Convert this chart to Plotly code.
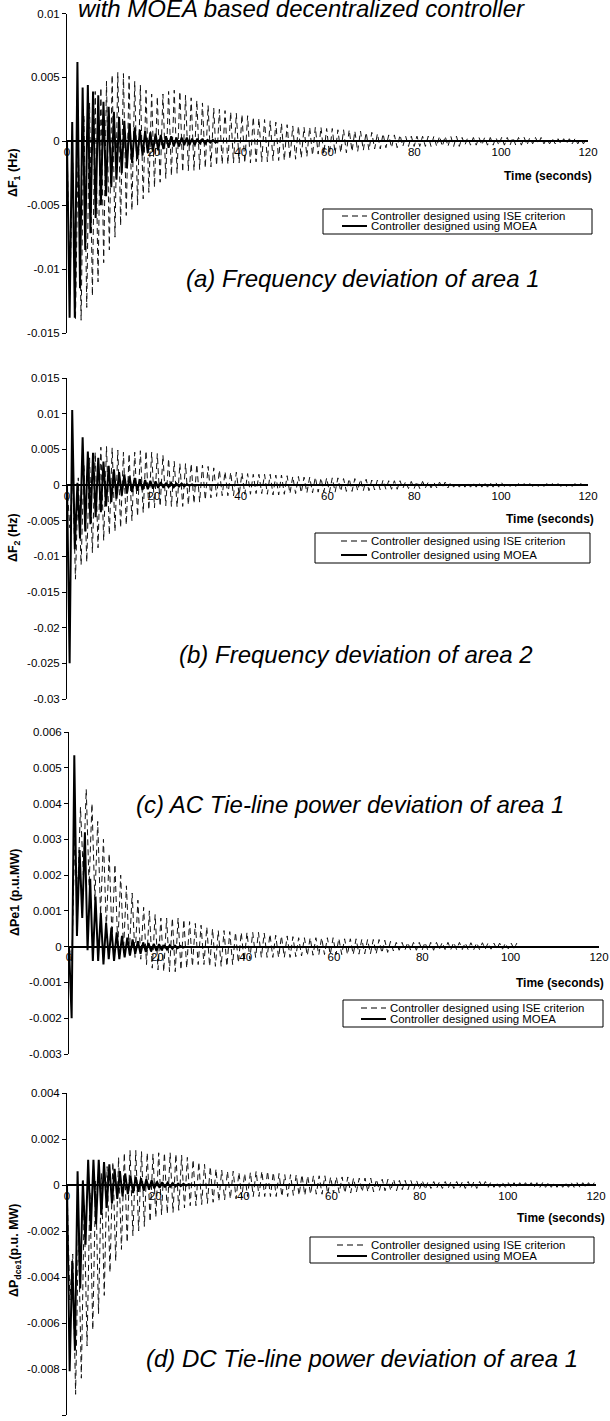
import plotly.graph_objects as go

W, H = 610, 1421
UNIT = 1e-4        # series values below are written in units of 1e-4
ISE_STEP = 0.65    # seconds between successive extrema read for the ISE curves
MOEA_STEP = 0.6    # seconds between successive extrema read for the MOEA curves

TIME_TICKS = [0, 20, 40, 60, 80, 100, 120]
TIME_TICK_TEXT = ["0", "20", "40", "60", "80", "100", "120"]

SERIES_NAMES = ["Controller designed using ISE criterion", "Controller designed using MOEA"]

# ---------------- (a) Frequency deviation of area 1 ----------------
ise_a = [
    0, -120, -15, -140, 0, -140, 20, -130, 30, -121, 39, -110, 42, -95, 47, -85,
    52, -75, 54, -66, 53, -58, 51, -54, 47, -50, 44, -45, 40, -40, 37, -36,
    35, -32, 37, -29, 39, -27, 40, -25, 39, -24, 36, -23, 34, -23, 32, -22,
    30, -21, 28, -20, 26, -19, 25, -18, 24, -18, 23, -17, 22, -17, 21, -17,
    20, -17, 19, -16, 18, -16, 17, -16, 16, -15, 15, -15, 14, -15, 13, -14,
    12, -14, 12, -13, 11, -12, 11, -11, 11, -10, 11, -10, 10, -10, 10, -10,
    9, -9, 9, -9, 9, -8, 8, -8, 8, -7, 7, -7, 7, -6, 6, -6,
    6, -5, 5, -5, 5, -5, 5, -4, 4, -4, 4, -4, 4, -4, 4, -4,
    4, -4, 4, -4, 4, -4, 4, -4, 4, -4, 4, -4, 3, -3, 3, -3,
    3, -3, 3, -3, 3, -3, 3, -3, 3, -3, 3, -3, 3, -3, 3, -3,
    3, -3, 3, -3, 3, -2, 3, -2, 3, -2, 2, -2, 2, -2, 2, -2,
    2, -2, 2, -2, 2, -2, 2, -2, 2,
]
moea_a = [
    0, -138, 15, -138, 62, -115, 42, -85, 44, -72, 39, -60, 36, -50, 31, -43,
    27, -36, 23, -30, 19, -25, 16, -21, 14, -17, 11, -14, 9, -11, 8, -9,
    7, -8, 6, -7, 5, -6, 4, -5, 4, -4, 3, -4, 3, -3, 3, -3,
    2, -3, 2, -2, 2, -2, 1, -1, 1, -1, 0,
]
yticks_a = [-0.015, -0.01, -0.005, 0, 0.005, 0.01]
ytext_a = ["-0.015", "-0.01", "-0.005", "0", "0.005", "0.01"]

# ---------------- (b) Frequency deviation of area 2 ----------------
ise_b = [
    0, -60, 15, -132, 10, -112, 28, -108, 38, -95, 46, -88, 53, -78, 54, -70,
    52, -65, 49, -60, 46, -56, 44, -50, 46, -44, 48, -39, 48, -35, 46, -32,
    44, -30, 42, -29, 37, -30, 33, -31, 30, -30, 30, -28, 30, -26, 29, -24,
    28, -21, 26, -18, 24, -16, 21, -15, 19, -15, 18, -15, 18, -14, 17, -13,
    16, -13, 15, -12, 15, -12, 15, -13, 15, -14, 14, -14, 14, -13, 13, -12,
    12, -12, 12, -11, 11, -11, 11, -11, 11, -10, 10, -10, 10, -10, 10, -10,
    10, -9, 9, -9, 9, -9, 9, -8, 8, -8, 8, -8, 7, -7, 7, -7,
    7, -6, 6, -6, 6, -6, 6, -5, 5, -5, 5, -5, 5, -5, 5, -4,
    4, -4, 4, -4, 4, -4, 4, -4, 4, -3, 3, -3, 3, -3, 3, -3,
    3, -3, 3, -3, 3, -3, 3, -3, 3, -3, 3, -2, 2, -2, 2, -2,
    2, -2, 2, -2, 2, -2, 2, -2, 2, -2, 2, -2, 2, -2, 2, -2,
    2, -2, 2, -2, 2, -2, 2, -1, 1,
]
moea_b = [
    0, -250, 105, -90, 3, -75, 67, -65, 47, -55, 45, -45, 38, -38, 33, -30,
    27, -24, 22, -19, 18, -15, 15, -12, 12, -10, 10, -8, 8, -7, 7, -6,
    6, -5, 5, -4, 4, -4, 3, -3, 3, -3, 2, -2, 2, -2, 1, -1,
    1, -1, 0,
]
yticks_b = [-0.03, -0.025, -0.02, -0.015, -0.01, -0.005, 0, 0.005, 0.01, 0.015]
ytext_b = ["-0.03", "-0.025", "-0.02", "-0.015", "-0.01", "-0.005", "0", "0.005", "0.01", "0.015"]

# ---------------- (c) AC tie-line power deviation of area 1 ----------------
ise_c = [
    0, -4, 30, 15, 39, 20, 44, 17, 40, 13, 35, 9, 30, 5, 26, 2,
    23, 0, 20, -1, 17, -2, 15, -3, 13, -3.5, 11, -5, 10, -6, 9, -6.5,
    8, -7, 8, -7, 8, -7, 8, -6.5, 7.6, -6, 7, -5.5, 6.5, -5, 6, -5,
    5.5, -5.5, 5, -5.5, 4.5, -5.5, 4.5, -5.5, 4.2, -5, 4, -4.5, 4, -4, 4, -3.5,
    4, -3, 4, -3, 3.8, -3, 3.5, -3, 3.2, -3, 3, -3, 3, -3, 2.8, -2.8,
    2.5, -2.6, 2.5, -2.5, 2.5, -2.4, 2.5, -2.3, 2.5, -2.2, 2.5, -2.2, 2.5, -2.2, 2.3, -2.2,
    2.2, -2.2, 2.2, -2.2, 2.2, -2.1, 2.1, -2, 2, -2, 2, -2, 2, -1.8, 1.8, -1.6,
    1.5, -1.2, 1.2, -1, 1.2, -1, 1.2, -1, 1.2, -1, 1.2, -1, 1.2, -1, 1.2, -1,
    1.2, -0.8, 1.2, -0.8, 1.2, -0.8, 1.2, -0.8, 1.2, -0.8, 1.1, -0.8, 1.1, -0.8, 1.1, -0.8,
    1.1, -0.7, 1.1, -0.7, 1, -0.7, 1, -0.7, 1, -0.6, 1, -0.6, 1,
]
moea_c = [
    0, -20, 53.5, 3, 27, 8, 32, -1, 19, -4, 14, -4, 9.5, -5, 6.7, -3.5,
    5.3, -4, 4, -3.5, 3, -3, 2.5, -2.5, 2, -2, 1.5, -2, 1.2, -1.5, 1, -1.3,
    0.8, -1.2, 0.7, -1, 0.5, -0.8, 0.4, -0.6, 0.3, -0.4, 0.2, -0.3, 0,
]
yticks_c = [-0.003, -0.002, -0.001, 0, 0.001, 0.002, 0.003, 0.004, 0.005, 0.006]
ytext_c = ["-0.003", "-0.002", "-0.001", "0", "0.001", "0.002", "0.003", "0.004", "0.005", "0.006"]

# ---------------- (d) DC tie-line power deviation of area 1 ----------------
ise_d = [
    0, -50, -30, -91, -20, -84, -9, -70, -3, -63, 2, -56, 5, -48, 8, -38,
    10, -33, 12, -28, 14, -25, 15, -22, 15, -20, 14.5, -18, 14, -16, 13.5, -14,
    14, -13, 14, -12.5, 14, -12, 13.5, -11, 13, -10, 12, -9, 11, -9, 10, -8.5,
    9, -8, 8, -7.5, 7, -7, 6.5, -6.5, 6, -6, 6, -6, 5.5, -5.5, 5, -5,
    5.5, -5, 6, -5, 6, -5, 6, -5, 5.5, -5, 5, -5, 4.5, -5, 4.5, -4.5,
    4.5, -4.5, 4.5, -4.5, 4, -4, 4, -4, 4, -4, 4, -4, 3.5, -3.5, 3.5, -3.5,
    3.5, -3.5, 3.5, -3.5, 3, -3, 3, -3, 3, -3, 3, -3, 2.5, -2.5, 2.5, -2.5,
    2.5, -2.5, 2.5, -2.5, 2, -2, 2, -2, 2, -2, 2, -2, 2, -2, 1.5, -1.5,
    1.5, -1.5, 1.5, -1.5, 1.5, -1.5, 1.5, -1.5, 1.5, -1.5, 1.5, -1.5, 1.5, -1.5, 1.5, -1.5,
    1.5, -1, 1.5, -1, 1.5, -1, 1, -1, 1, -1, 1, -1, 1, -1, 1, -1,
    1, -1, 1, -1, 1, -1, 1, -1, 1, -1, 1, -1, 1, -1, 1, -1,
    1, -1, 1, -1, 1, -1, 1, -1, 1,
]
moea_d = [
    0, -81, -33, -72, 6, -45, 2, -26, 11, -20, 11, -17, 11, -13, 10, -10,
    9, -8, 7, -6, 6, -5, 5, -4, 4, -3.5, 3.5, -3, 3, -2.5, 2.5, -2,
    2, -1.5, 1.5, -1.2, 1.2, -1, 1, -0.8, 0.8, -0.6, 0.6, -0.5, 0.5, -0.3, 0.3, 0,
]
yticks_d = [-0.01, -0.008, -0.006, -0.004, -0.002, 0, 0.002, 0.004]
ytext_d = ["-0.01", "-0.008", "-0.006", "-0.004", "-0.002", "0", "0.002", "0.004"]

TITLE_TEXT = "with MOEA based decentralized controller"
PANEL_LABELS = [
    "(a) Frequency deviation of area 1",
    "(b) Frequency deviation of area 2",
    "(c) AC Tie-line power deviation of area 1",
    "(d) DC Tie-line power deviation of area 1",
]
Y_TITLES = [
    "ΔF<sub>1</sub> (Hz)",
    "ΔF<sub>2</sub> (Hz)",
    "ΔPe1 (p.u.MW)",
    "ΔP<sub>dce1</sub>(p.u. MW)",
]
X_TITLE = "Time (seconds)"

# ---------------- layout (pixel geometry) ----------------
FONT = "Liberation Sans, Arial, Helvetica, sans-serif"
panels = [
    dict(ise=ise_a, moea=moea_a, yr=(-0.015, 0.01), tv=yticks_a, tt=ytext_a,
         xl=67, xr=588, yt=13.5, yb=333, lab=(363, 279), ytitle=(14, 173), xt=(594, 176),
         box=(323, 592, 209, 234), samp=(342, 367), tx=369, rows=(216, 226)),
    dict(ise=ise_b, moea=moea_b, yr=(-0.03, 0.015), tv=yticks_b, tt=ytext_b,
         xl=67, xr=588, yt=378, yb=699, lab=(356, 654), ytitle=(14, 538), xt=(596, 519),
         box=(315, 590, 533, 563), samp=(341, 367), tx=369, rows=(541, 555)),
    dict(ise=ise_c, moea=moea_c, yr=(-0.003, 0.006), tv=yticks_c, tt=ytext_c,
         xl=69, xr=599, yt=732, yb=1054, lab=(350, 804), ytitle=(15, 893), xt=(606, 983),
         box=(343, 603, 1000, 1027), samp=(361, 386), tx=388, rows=(1008, 1019)),
    dict(ise=ise_d, moea=moea_d, yr=(-0.01, 0.004), tv=yticks_d, tt=ytext_d,
         xl=67, xr=596, yt=1093, yb=1415, lab=(362, 1358), ytitle=(15, 1250), xt=(607, 1218),
         box=(310, 594, 1237, 1263), samp=(337, 367), tx=369, rows=(1245, 1256)),
]


def fx(px):
    return px / W


def fy(py):
    return 1 - py / H


DASH = "6px,4px"
ISE_W = 1.0
ISE_COLOR = "#111111"
fig = go.Figure()
layout = {}
shapes = []
annotations = []

for i, p in enumerate(panels, start=1):
    sfx = "" if i == 1 else str(i)
    xa, ya = "x" + sfx, "y" + sfx
    t_ise = [round(ISE_STEP * k, 3) for k in range(len(p["ise"]))]
    t_moea = [round(MOEA_STEP * k, 3) for k in range(len(p["moea"]))]
    fig.add_trace(go.Scatter(
        x=t_ise, y=[v * UNIT for v in p["ise"]], xaxis=xa, yaxis=ya, mode="lines",
        name=SERIES_NAMES[0], showlegend=False,
        line=dict(color=ISE_COLOR, width=ISE_W, dash=DASH)))
    fig.add_trace(go.Scatter(
        x=t_moea, y=[v * UNIT for v in p["moea"]], xaxis=xa, yaxis=ya, mode="lines",
        name=SERIES_NAMES[1], showlegend=False,
        line=dict(color="black", width=2)))

    y0, y1 = p["yr"]
    d0, d1 = fy(p["yb"]), fy(p["yt"])
    zero_pos = d0 + (0 - y0) / (y1 - y0) * (d1 - d0)
    layout["xaxis" + sfx] = dict(
        domain=[fx(p["xl"]), fx(p["xr"])], range=[0, 120], anchor="free", position=zero_pos,
        showline=True, linecolor="black", linewidth=1.6, ticks="", showgrid=False,
        zeroline=False, tickvals=TIME_TICKS, ticktext=TIME_TICK_TEXT,
        tickfont=dict(family=FONT, size=11.5, color="black"))
    layout["yaxis" + sfx] = dict(
        domain=[d0, d1], range=[y0, y1], anchor=xa, showline=True, linecolor="black",
        linewidth=1, ticks="outside", ticklen=4, tickwidth=1, tickcolor="black",
        showgrid=False, zeroline=False, tickvals=p["tv"], ticktext=p["tt"],
        tickfont=dict(family=FONT, size=11.5, color="black"))

    # panel caption
    annotations.append(dict(
        text="<i>" + PANEL_LABELS[i - 1] + "</i>", x=fx(p["lab"][0]), y=fy(p["lab"][1]),
        xref="paper", yref="paper", showarrow=False, xanchor="center", yanchor="middle",
        font=dict(family=FONT, size=24, color="black")))
    # y axis title
    annotations.append(dict(
        text="<b>" + Y_TITLES[i - 1] + "</b>", x=fx(p["ytitle"][0]), y=fy(p["ytitle"][1]),
        xref="paper", yref="paper", showarrow=False, textangle=-90,
        xanchor="center", yanchor="middle", font=dict(family=FONT, size=12.5, color="black")))
    # x axis title
    annotations.append(dict(
        text="<b>" + X_TITLE + "</b>", x=fx(p["xt"][0]), y=fy(p["xt"][1]),
        xref="paper", yref="paper", showarrow=False, xanchor="right", yanchor="middle",
        font=dict(family=FONT, size=12, color="black")))

    # legend box
    bx0, bx1, by0, by1 = p["box"]
    shapes.append(dict(type="rect", xref="paper", yref="paper",
                       x0=fx(bx0), x1=fx(bx1), y0=fy(by1), y1=fy(by0),
                       line=dict(color="black", width=1), fillcolor="white", layer="above"))
    sx0, sx1 = p["samp"]
    for r, (nm, dash, wd) in enumerate([(SERIES_NAMES[0], DASH, 1.2), (SERIES_NAMES[1], "solid", 2)]):
        ry = p["rows"][r]
        shapes.append(dict(type="line", xref="paper", yref="paper",
                           x0=fx(sx0), x1=fx(sx1), y0=fy(ry), y1=fy(ry),
                           line=dict(color="black", width=wd, dash=dash), layer="above"))
        annotations.append(dict(
            text=nm, x=fx(p["tx"]), y=fy(ry), xref="paper", yref="paper", showarrow=False,
            xanchor="left", yanchor="middle", font=dict(family=FONT, size=11.4, color="black")))

# figure title (cut at the top edge in the original)
annotations.append(dict(
    text="<i>" + TITLE_TEXT + "</i>", x=fx(301), y=fy(8), xref="paper", yref="paper",
    showarrow=False, xanchor="center", yanchor="middle",
    font=dict(family=FONT, size=24, color="black")))

fig.update_layout(
    width=W, height=H, margin=dict(l=0, r=0, t=0, b=0, autoexpand=False),
    paper_bgcolor="white", plot_bgcolor="white", showlegend=False,
    shapes=shapes, annotations=annotations, **layout)

fig.write_html(
    "out.html", include_plotlyjs=True, config={"displayModeBar": False},
    post_script="document.body.style.margin='0';document.body.style.padding='0';"
                "document.documentElement.style.overflow='hidden';")
